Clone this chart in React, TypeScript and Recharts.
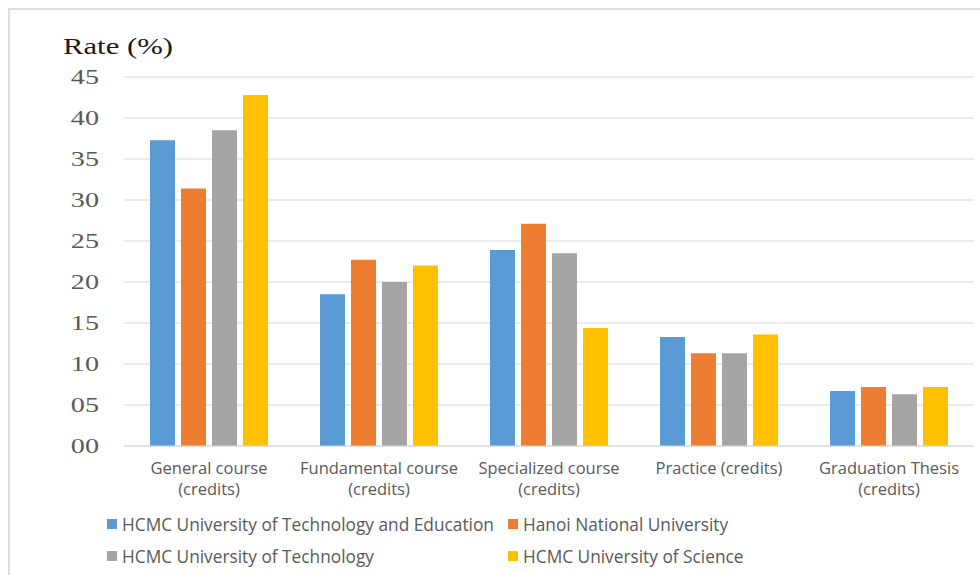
import { BarChart, Bar, XAxis, YAxis, CartesianGrid, Legend } from 'recharts'

const tickLines = [
  ['General course', '(credits)'],
  ['Fundamental course', '(credits)'],
  ['Specialized course', '(credits)'],
  ['Practice (credits)'],
  ['Graduation Thesis', '(credits)'],
]
const categories = tickLines.map((l) => l.join(' '))

const seriesNames = [
  'HCMC University of Technology and Education',
  'Hanoi National University',
  'HCMC University of Technology',
  'HCMC University of Science',
]
const colors = ['#5B9BD5', '#ED7D31', '#A5A5A5', '#FFC000']

const hcmute = [37.3, 18.5, 23.9, 13.3, 6.7]
const hnu = [31.4, 22.7, 27.1, 11.3, 7.2]
const hcmut = [38.5, 20.0, 23.5, 11.3, 6.3]
const hcmus = [42.8, 22.0, 14.4, 13.6, 7.2]
const yTicks = [0, 5, 10, 15, 20, 25, 30, 35, 40, 45]

const keys = ['s0', 's1', 's2', 's3']
const data = categories.map((c, i) => ({
  category: c,
  s0: hcmute[i],
  s1: hnu[i],
  s2: hcmut[i],
  s3: hcmus[i],
}))

const sans = '"Open Sans", sans-serif'
const serif = '"Liberation Serif", "Times New Roman", serif'

function YTick({ y, payload }: any) {
  const x = 99
  return (
    <text
      x={x}
      y={y}
      dy={7.5}
      textAnchor="end"
      fontFamily={serif}
      fontSize={22}
      fill="#595959"
      transform={`translate(${x} 0) scale(1.28 1) translate(${-x} 0)`}
    >
      {String(payload.value).padStart(2, '0')}
    </text>
  )
}

function XTick({ x, payload, index }: any) {
  const lines = tickLines[index] ?? [payload.value]
  return (
    <g>
      {lines.map((l, i) => (
        <text key={i} x={x} y={474 + i * 21} textAnchor="middle" fontFamily={sans} fontSize={16.5} fill="#595959">
          {l}
        </text>
      ))}
    </g>
  )
}

function RateLabel() {
  return (
    <text
      x={63}
      y={54}
      fontFamily={serif}
      fontSize={24}
      fill="#1a1a1a"
      transform="translate(63 0) scale(1.28 1) translate(-63 0)"
    >
      Rate (%)
    </text>
  )
}

function LegendBox() {
  const cols = [107, 508]
  return (
    <div style={{ position: 'relative', width: 980, height: 70 }}>
      {seriesNames.map((name, i) => (
        <div
          key={name}
          style={{
            position: 'absolute',
            left: cols[i % 2],
            top: 19 + Math.floor(i / 2) * 32 - 12,
            height: 24,
            display: 'flex',
            alignItems: 'center',
            fontFamily: sans,
            fontSize: 17.3,
            color: '#595959',
            whiteSpace: 'nowrap',
          }}
        >
          <span style={{ width: 10, height: 10, background: colors[i], marginRight: 5, display: 'inline-block' }} />
          {name}
        </div>
      ))}
    </div>
  )
}

export default function App() {
  return (
    <div style={{ position: 'absolute', left: 0, top: 0, width: 980, height: 575, background: '#fff' }}>
      <div
        style={{
          position: 'absolute',
          left: 8,
          top: 8,
          width: 980,
          height: 575,
          borderTop: '2px solid #dcdcdc',
          borderLeft: '2px solid #dcdcdc',
        }}
      />
      <BarChart
        width={980}
        height={575}
        data={data}
        margin={{ top: 77, right: 6, left: 24, bottom: 0 }}
        barCategoryGap={26}
        barGap={6}
      >
        <CartesianGrid vertical={false} stroke="#d9d9d9" />
        <XAxis
          dataKey="category"
          height={59}
          tick={<XTick />}
          tickLine={false}
          axisLine={{ stroke: '#d9d9d9' }}
          interval={0}
        />
        <YAxis
          width={100}
          domain={[0, 45]}
          ticks={yTicks}
          tick={<YTick />}
          tickLine={false}
          axisLine={false}
          label={<RateLabel />}
        />
        <Legend verticalAlign="bottom" wrapperStyle={{ left: 0, width: 980 }} content={() => <LegendBox />} />
        {keys.map((k, i) => (
          <Bar key={k} dataKey={k} name={seriesNames[i]} fill={colors[i]} isAnimationActive={false} />
        ))}
      </BarChart>
    </div>
  )
}
